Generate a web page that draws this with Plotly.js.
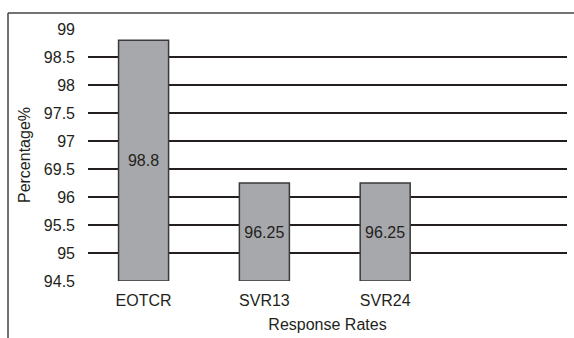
<!DOCTYPE html>
<html>
<head>
<meta charset="utf-8">
<script src="https://cdn.plot.ly/plotly-3.0.1.min.js"></script>
<style>html,body{margin:0;padding:0;background:#fff;}#chart{width:574px;height:338px;}</style>
</head>
<body>
<div id="chart"></div>
<script>
const categories = ["EOTCR", "SVR13", "SVR24"];
const values = [98.8, 96.25, 96.25];
const tickValues = [94.5, 95, 95.5, 96, 96.5, 97, 97.5, 98, 98.5, 99];
const tickLabels = ["94.5", "95", "95.5", "96", "69.5", "97", "97.5", "98", "98.5", "99"];
const baseValue = 94.5;

const font = {family: "Liberation Sans, Arial, sans-serif", size: 16, color: "#231f20"};

const trace = {
  type: "bar",
  x: categories,
  y: values.map(v => v - baseValue),
  base: values.map(() => baseValue),
  text: values.map(v => String(v)),
  textposition: "inside",
  insidetextanchor: "middle",
  textangle: 0,
  textfont: font,
  width: 0.414,
  marker: {color: "#a7a8ab", line: {color: "#3a3a3a", width: 1.5}},
  hoverinfo: "none"
};

const layout = {
  width: 574, height: 338,
  margin: {l: 88, r: 7, t: 29, b: 57},
  paper_bgcolor: "#fff", plot_bgcolor: "#fff",
  font: font,
  showlegend: false,
  xaxis: {
    type: "category",
    range: [-0.46, 3.505],
    showgrid: false, zeroline: false, showline: false,
    ticks: "", ticklabelstandoff: 8,
    tickfont: font,
    title: {text: "Response Rates", font: font, standoff: 10}
  },
  yaxis: {
    range: [94.5, 99],
    tickvals: tickValues, ticktext: tickLabels,
    showgrid: true, gridcolor: "#231f20", gridwidth: 1.5,
    zeroline: false, showline: false,
    ticks: "", ticklabelstandoff: 12,
    tickfont: font,
    title: {text: "Percentage%", font: font, standoff: 9}
  },
  shapes: [
    {type: "line", xref: "paper", yref: "paper", x0: -0.167, x1: 1.02, y0: 1.0635, y1: 1.0635, line: {color: "#444", width: 1.5}},
    {type: "line", xref: "paper", yref: "paper", x0: -0.167, x1: -0.167, y0: 1.0635, y1: -0.24, line: {color: "#444", width: 1.5}}
  ]
};

Plotly.newPlot("chart", [trace], layout, {staticPlot: true, displayModeBar: false});
</script>
</body>
</html>
